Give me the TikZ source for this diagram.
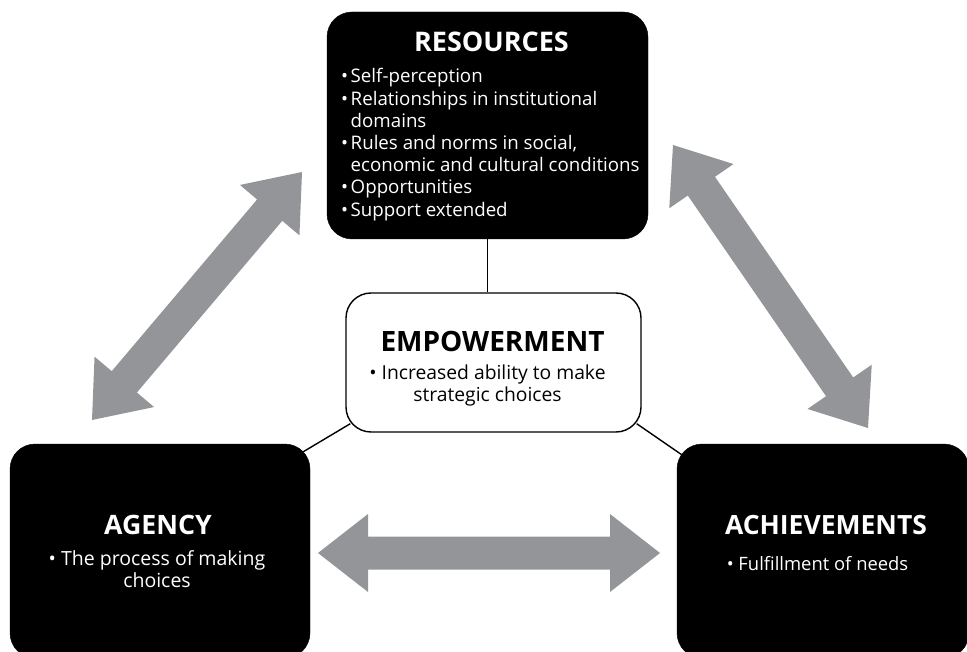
\documentclass[tikz,border=0pt]{standalone}
\usepackage{fontspec}
\setmainfont{Open Sans}
\usetikzlibrary{calc}
\definecolor{arrowgray}{RGB}{147,149,152}
\tikzset{
  darkbox/.style={rectangle, rounded corners=25pt, fill=black, draw=black, inner sep=0pt},
  lightbox/.style={rectangle, rounded corners=25pt, fill=white, draw=black, line width=1.4pt, inner sep=0pt},
  link/.style={draw=black, line width=1.4pt},
  wtitle/.style={text=white, font=\bfseries\fontsize{27}{30}\selectfont, inner sep=0pt, anchor=base},
  btitle/.style={text=black, font=\bfseries\fontsize{28}{30}\selectfont, inner sep=0pt, anchor=base},
  wbody/.style={text=white, inner sep=0pt, align=center, anchor=base},
}
\newcommand{\dblarrow}[2]{%
  \coordinate (ha) at ($(#1)!50pt!(#2)$);
  \coordinate (hb) at ($(#2)!50pt!(#1)$);
  \fill[arrowgray] (#1) -- ($(ha)!39pt!90:(#2)$) -- ($(ha)!16.5pt!90:(#2)$)
    -- ($(hb)!16.5pt!-90:(#1)$) -- ($(hb)!39pt!-90:(#1)$) -- (#2)
    -- ($(hb)!39pt!90:(#1)$) -- ($(hb)!16.5pt!90:(#1)$)
    -- ($(ha)!16.5pt!-90:(#2)$) -- ($(ha)!39pt!-90:(#2)$) -- cycle;
}
\begin{document}
\begin{tikzpicture}[x=1pt,y=-1pt]
\useasboundingbox (0,0) rectangle (967,652);
% boxes
\node[darkbox, minimum width=321pt, minimum height=227pt] (res) at (487.5,125.5) {};
\node[lightbox, minimum width=295pt, minimum height=139pt] (emp) at (493.5,362.5) {};
\node[darkbox, minimum width=300pt, minimum height=214pt] (agency) at (160,551) {};
\node[darkbox, minimum width=292pt, minimum height=214pt] (ach) at (823,551) {};
% connectors
\draw[link] (res.south) -- (res.south |- emp.north);
\draw[link] ($(emp.south west)+(5,-9)$) -- ($(agency.north east)+(-7,8)$);
\draw[link] ($(emp.south east)+(-5,-9)$) -- ($(ach.north west)+(5,11)$);
% gray arrows
\coordinate (la) at (92,420);
\coordinate (lb) at (302,172);
\coordinate (ra) at (673,145);
\coordinate (rb) at (868,428);
\coordinate (ma) at (318,553);
\coordinate (mb) at (660,553);
\dblarrow{la}{lb}
\dblarrow{ra}{rb}
\dblarrow{ma}{mb}
% texts
\node[wtitle] (restitle) at (491.5,52) {RESOURCES};
\node[text=white, inner sep=0pt, anchor=base west] (reslist) at (341,83)
 {\fontsize{18.7}{22.2}\selectfont\begin{tabular}[t]{@{}l@{\hspace{2.5pt}}l@{}}
 •&Self-perception\\
 •&Relationships in institutional\\
 &domains\\
 •&Rules and norms in social,\\
 &economic and cultural conditions\\
 •&Opportunities\\
 •&Support extended
 \end{tabular}};
\node[btitle] (emptitle) at (492.5,352) {EMPOWERMENT};
\node[text=black, inner sep=0pt, align=center, anchor=base, font=\fontsize{19.3}{22}\selectfont] (empbody) at (487.5,402)
 {• Increased ability to make\\strategic choices};
\node[wtitle, font=\bfseries\fontsize{26.7}{30}\selectfont] (agtitle) at (158,534) {AGENCY};
\node[wbody, font=\fontsize{19.5}{22}\selectfont] (agbody) at (157,587) {• The process of making\\choices};
\node[wtitle, font=\bfseries\fontsize{26.5}{30}\selectfont] (achtitle) at (826,534) {ACHIEVEMENTS};
\node[wbody, font=\fontsize{18.4}{22}\selectfont] (achbody) at (817.5,570) {• Fulfillment of needs};
\end{tikzpicture}
\end{document}
